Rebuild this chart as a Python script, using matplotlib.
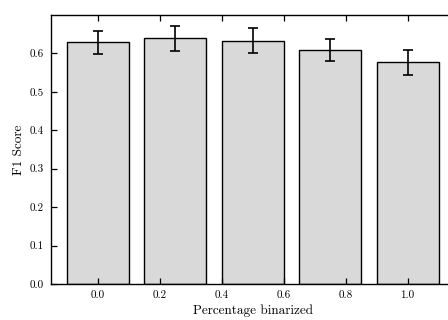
import numpy as np
import matplotlib
matplotlib.use("Agg")
from matplotlib import pyplot as plt

# data
positions = [0.0, 0.25, 0.5, 0.75, 1.0]
f1_scores = [0.629, 0.639, 0.633, 0.609, 0.577]
f1_errors = [0.030, 0.033, 0.033, 0.029, 0.032]
x_ticks = [0.0, 0.2, 0.4, 0.6, 0.8, 1.0]
y_ticks = [0.0, 0.1, 0.2, 0.3, 0.4, 0.5, 0.6]

plt.rcParams['font.family'] = 'serif'
plt.rcParams['font.serif'] = ['cmr10', 'DejaVu Serif']
plt.rcParams['axes.formatter.use_mathtext'] = True

fig = plt.figure(figsize=(4.48, 3.2), dpi=100)
# axes runs past the right edge of the figure, like the reference crop
ax = fig.add_axes([51 / 448, 36 / 320, 403 / 448, 269 / 320])

ax.bar(positions, f1_scores, width=0.2, color='#d9d9d9', edgecolor='black',
       linewidth=1.0, yerr=f1_errors,
       error_kw=dict(ecolor='black', elinewidth=1.2, capsize=3.5, capthick=1.2))

ax.set_xlim(-0.15, 1.15)
ax.set_ylim(0, 0.7)
ax.set_xticks(x_ticks)
ax.set_xticklabels([f"{t:.1f}" for t in x_ticks])
ax.set_yticks(y_ticks)
ax.set_yticklabels([f"{t:.1f}" for t in y_ticks])
ax.tick_params(direction='in', top=True, right=True, labelsize=8, length=4, width=0.9, pad=5)
for s in ax.spines.values():
    s.set_linewidth(1.0)

ax.set_xlabel('Percentage binarized', fontsize=9.5, labelpad=3)
ax.set_ylabel('F1 Score', fontsize=9.5, labelpad=3.5)

fig.savefig('out.png', dpi=100)
